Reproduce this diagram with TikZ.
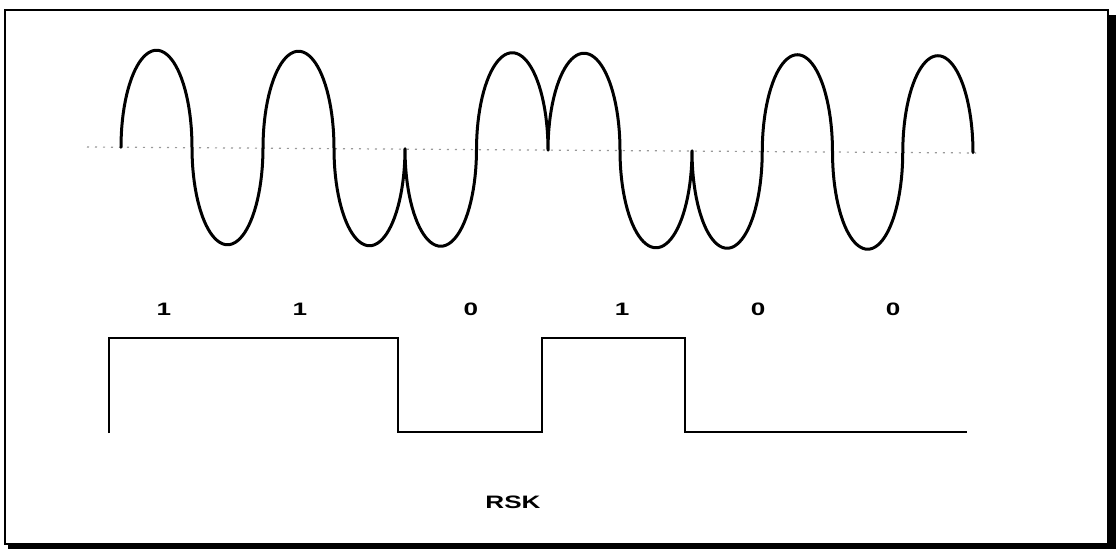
\documentclass[tikz,border=0pt]{standalone}
\usepackage{fontspec}
\setmainfont{Liberation Sans}
\tikzset{
  wave/.style={line width=3pt, line join=round, line cap=round, black},
  sq/.style={line width=2pt, line join=miter, black},
  axisdots/.style={line width=1.2pt, gray!80, dash pattern=on 2pt off 6pt},
  bitlbl/.style={font=\fontsize{18}{18}\selectfont\bfseries, inner sep=0pt, xscale=1.45, transform shape},
}
\begin{document}
\begin{tikzpicture}[x=1pt, y=-1pt]
\useasboundingbox (0,0) rectangle (1116,549);
\fill[white] (0,0) rectangle (1116,549);
% frame with shadow
\draw[line width=2.5pt] (5,10) rectangle (1108,544);
\fill[black] (1108,15) rectangle (1116,549);
\fill[black] (8,543) rectangle (1116,549);
% dotted axis
\coordinate (axL) at (87,147);
\coordinate (axR) at (976,153);
\draw[axisdots] (axL) -- (axR);
% modulated wave: half-lobes (start/end/direction, 1 = up)
\coordinate (w0) at (121,147);
\draw[wave] (w0)
  foreach \a/\b/\s in {121/192/1, 192/263/-1, 263/334/1, 334/405/-1,
                       405/476.5/-1, 476.5/548/1,
                       548/620/1, 620/692/-1,
                       692/762.25/-1, 762.25/832.5/1, 832.5/902.75/-1, 902.75/973/1}
  { -- plot[domain=180:0, samples=45, variable=\x]
      ({(\a+\b)/2 + (\b-\a)/2*cos(\x)},
       {147 + 0.007*((\a+\b)/2-121) - \s*97*sin(\x)}) };
% bit labels
\node[bitlbl] (b1) at (164,309) {1};
\node[bitlbl] (b2) at (300,309) {1};
\node[bitlbl] (b3) at (471,309) {0};
\node[bitlbl] (b4) at (622,309) {1};
\node[bitlbl] (b5) at (758,309) {0};
\node[bitlbl] (b6) at (893,309) {0};
% square wave
\coordinate (s0) at (109,433);
\coordinate (s1) at (109,338);
\coordinate (s2) at (398,338);
\coordinate (s3) at (398,432);
\coordinate (s4) at (542,432);
\coordinate (s5) at (542,338);
\coordinate (s6) at (685,338);
\coordinate (s7) at (685,432);
\coordinate (s8) at (967,432);
\draw[sq] (s0) -- (s1) -- (s2) -- (s3) -- (s4) -- (s5) -- (s6) -- (s7) -- (s8);
% caption
\node[bitlbl] (cap) at (513,502) {RSK};
\end{tikzpicture}
\end{document}
